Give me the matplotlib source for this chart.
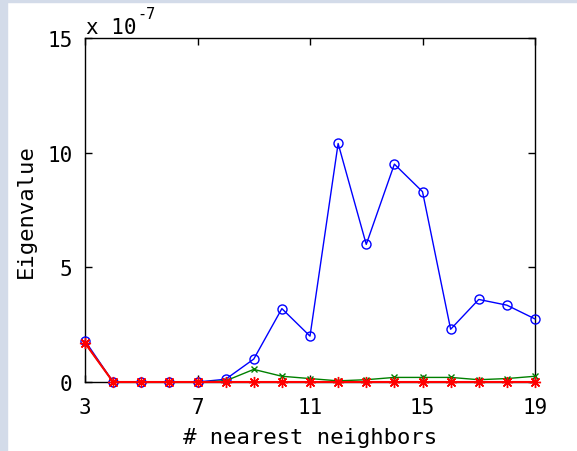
import numpy as np
import matplotlib.pyplot as plt
from matplotlib.patches import Rectangle

# eigenvalues in units of 1e-7
k = [3, 4, 5, 6, 7, 8, 9, 10, 11, 12, 13, 14, 15, 16, 17, 18, 19]
ev1 = [1.8, 0, 0, 0, 0, 0.12, 1.0, 3.2, 2.0, 10.4, 6.0, 9.5, 8.3, 2.3, 3.6, 3.35, 2.75]
ev2 = [1.7, 0, 0, 0, 0, 0.05, 0.55, 0.25, 0.15, 0.05, 0.1, 0.2, 0.2, 0.2, 0.1, 0.15, 0.25]
ev3 = [1.7, 0, 0, 0, 0, 0, 0, 0, 0, 0, 0, 0, 0, 0, 0, 0, 0]

xticks = [3, 7, 11, 15, 19]
yticks = [0, 5, 10, 15]

plt.rcParams['font.family'] = 'DejaVu Sans Mono'
fig = plt.figure(figsize=(5.77, 4.52), dpi=100)
fig.patch.set_facecolor('white')
# light frame strips at top and left
fig.patches.append(Rectangle((0, 0), 7/577, 1, transform=fig.transFigure, color='#d3dbe9', zorder=0))
fig.patches.append(Rectangle((0, 1-3/452), 1, 3/452, transform=fig.transFigure, color='#d3dbe9', zorder=0))

ax = fig.add_axes([85/577, 69/452, 450/577, 344/452])
ax.plot(k, ev1, '-o', color='blue', lw=1, ms=6.5, mfc='none', mew=1, clip_on=False, zorder=3)
ax.plot(k, ev2, '-x', color='green', lw=1, ms=4.5, mew=1, clip_on=False, zorder=4)
ax.plot(k, ev3, '-', color='red', lw=1.5, clip_on=False, zorder=5)
ax.plot(k, ev3, ls='none', marker=(8, 2, 0), color='red', ms=8, mew=1, clip_on=False, zorder=5)

ax.set_xlim(3, 19)
ax.set_ylim(0, 15)
ax.set_xticks(xticks)
ax.set_yticks(yticks)
ax.tick_params(direction='in', top=True, right=True, length=5, width=1, labelsize=15)
ax.tick_params(axis='x', pad=11)
ax.tick_params(axis='y', pad=9)
for s in ax.spines.values():
    s.set_linewidth(1)
ax.set_xlabel('# nearest neighbors', fontsize=16, labelpad=7)
ax.set_ylabel('Eigenvalue', fontsize=16, labelpad=8)
fig.text(86/577, 1 - 34/452, 'x 10', fontsize=15, ha='left', va='baseline')
fig.text(137/577, 1 - 19/452, '-7', fontsize=11, ha='left', va='baseline')

fig.savefig('out.png', dpi=100)
